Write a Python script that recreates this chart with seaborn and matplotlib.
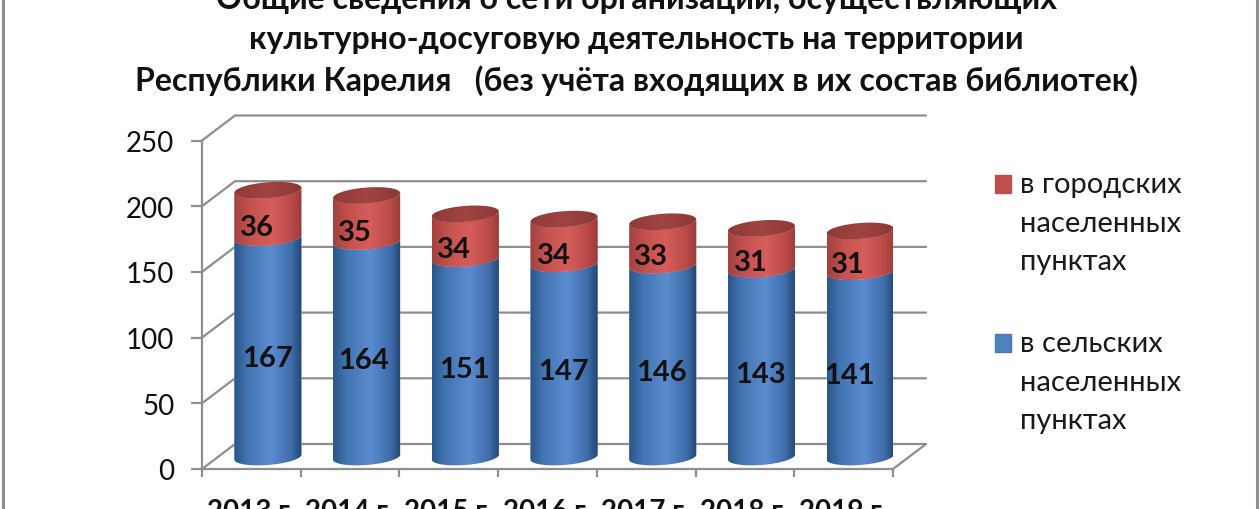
import numpy as np
import pandas as pd
import matplotlib
matplotlib.use("Agg")
import matplotlib.pyplot as plt
import seaborn as sns
from matplotlib.colors import LinearSegmentedColormap
from matplotlib.lines import Line2D
from matplotlib.patches import Patch
from matplotlib.path import Path
from matplotlib.transforms import Affine2D, IdentityTransform

years = ["2013 г.", "2014 г.", "2015 г.", "2016 г.", "2017 г.", "2018 г.", "2019 г."]
rural = [167, 164, 151, 147, 146, 143, 141]
urban = [36, 35, 34, 34, 33, 31, 31]
yticks = [0, 50, 100, 150, 200, 250]
rural_name = "в сельских\nнаселенных\nпунктах"
urban_name = "в городских\nнаселенных\nпунктах"
title = ("Общие сведения о сети организаций, осуществляющих\n"
         "культурно-досуговую деятельность на территории\n"
         "Республики Карелия   (без учёта входящих в их состав библиотек)")

# label nudges in pixels, horizontal, relative to the cylinder centre
rural_dx = [0, -3, -1, -1, -1, -1, -11]
urban_dx = [-11, -12, -11, -10, -12, -11, -12]

GRAY = "#8e8e8e"
W, H = 1260, 510

sns.set_theme(style="white")
plt.rcParams["font.family"] = ["Lato", "DejaVu Sans"]

fig = plt.figure(figsize=(W / 100, H / 100), dpi=100, facecolor="white")
L, R, T, B = 202, 893, 141.5, 470
ax = fig.add_axes([L / W, 1 - B / H, (R - L) / W, (B - T) / H])
ax.set_facecolor("none")

df = pd.DataFrame({"year": years, "rural": rural, "urban": urban})
sns.barplot(data=df, x="year", y="rural", color="#4f81bd", width=0.68, ax=ax, zorder=3)
n_rural = len(ax.patches)
sns.barplot(data=df, x="year", y="urban", bottom=df["rural"], color="#c0504d",
            width=0.68, ax=ax, zorder=3)
ax.set_xlim(-0.5, 6.5)
ax.set_ylim(0, 250)
ax.set_autoscale_on(False)
ax.set_xlabel("")
ax.set_ylabel("")

# axes look
for s in ("top", "right"):
    ax.spines[s].set_visible(False)
for s in ("left", "bottom"):
    ax.spines[s].set_color(GRAY)
    ax.spines[s].set_linewidth(1.6)
ax.set_yticks(yticks)
ax.tick_params(axis="y", left=True, length=8, width=1.6, color=GRAY, pad=12,
               labelsize=20, labelcolor="#111111")
ax.set_xticks(np.arange(-0.5, 7, 1))
ax.set_xticklabels([])
ax.set_xticks(np.arange(7), labels=years, minor=True)
ax.tick_params(axis="x", which="major", bottom=True, length=6, width=1.6, color=GRAY)
ax.tick_params(axis="x", which="minor", bottom=False, length=0, pad=21, labelsize=20)
for t in ax.get_xticklabels(minor=True):
    t.set_fontweight("bold")
    t.set_color("#111111")

# back wall and floor (3-D depth), from the y tick values
back = ax.transData + Affine2D().translate(33, 25)
front = ax.transData
for v in yticks:
    p0 = front.transform((-0.5, v))
    p1 = back.transform((-0.5, v))
    p2 = back.transform((6.5, v))
    ax.add_line(Line2D([p0[0], p1[0], p2[0]], [p0[1], p1[1], p2[1]], color=GRAY, lw=1.6,
                       transform=IdentityTransform(), clip_on=False, zorder=1))
p0 = front.transform((6.5, 0))
p1 = back.transform((6.5, 0))
ax.add_line(Line2D([p0[0], p1[0]], [p0[1], p1[1]], color=GRAY, lw=1.6,
                   transform=IdentityTransform(), clip_on=False, zorder=1))

# cylinders, built on the bars that seaborn placed
off = ax.transData + Affine2D().translate(16.5, 12)
BMINOR, SHEAR = 8.0, 5.0 / 67.0
blue_cm = LinearSegmentedColormap.from_list(
    "b", [(0, "#2a5688"), (0.2, "#4375b2"), (0.55, "#5a8cd0"), (0.85, "#3f6ca8"), (1, "#1f4674")])
red_cm = LinearSegmentedColormap.from_list(
    "r", [(0, "#a2413f"), (0.25, "#c5524f"), (0.55, "#d65e5a"), (0.85, "#b94a48"), (1, "#9a3b39")])
top_cm = LinearSegmentedColormap.from_list("t", ["#8f3a38", "#a04442", "#8c3836"])


def arc(cx, cy, a, t0, t1):
    t = np.linspace(t0, t1, 60)
    x = a * np.cos(t)
    return np.column_stack([cx + x, cy + BMINOR * np.sin(t) + SHEAR * x])


grad = np.linspace(0, 1, 256).reshape(1, -1)


def shade(path, cmap, x0, x1, y0, y1, z):
    im = ax.imshow(grad, extent=(x0, x1, y0, y1), cmap=cmap, aspect="auto", vmin=0, vmax=1,
                   transform=IdentityTransform(), zorder=z, interpolation="bilinear")
    im.set_clip_path(path, IdentityTransform())


for i, bar in enumerate(ax.patches):
    is_rural = i < n_rural
    xa, ya = off.transform((bar.get_x(), bar.get_y()))
    xb, yb = off.transform((bar.get_x() + bar.get_width(), bar.get_y() + bar.get_height()))
    a, cx = (xb - xa) / 2, (xa + xb) / 2
    lower = arc(cx, ya, a, np.pi, 2 * np.pi)          # front arc at the segment's foot
    upper = arc(cx, yb, a, 2 * np.pi, np.pi)          # going back along the head
    path = Path(np.vstack([lower, upper, lower[:1]]))
    z = 3 if is_rural else 4
    bar.set_transform(off)
    bar.set_clip_path(path, IdentityTransform())
    bar.set_zorder(z)
    shade(path, blue_cm if is_rural else red_cm, xa, xb, ya - 12, yb + 12, z + 0.1)
    if not is_rural:
        lid = Path(arc(cx, yb, a, 0, 2 * np.pi))
        shade(lid, top_cm, xa, xb, yb - 12, yb + 12, 4.5)

# data labels
for i in range(len(years)):
    px, py = off.transform((i, rural[i] / 2))
    ax.text(px + rural_dx[i], py - 11, str(rural[i]), transform=IdentityTransform(), ha="center",
            va="center", fontsize=21, fontweight="bold", color="#111111", zorder=6, clip_on=False)
    px, py = off.transform((i, rural[i] + urban[i] / 2))
    ax.text(px + urban_dx[i], py - 13, str(urban[i]), transform=IdentityTransform(), ha="center",
            va="center", fontsize=21, fontweight="bold", color="#111111", zorder=6, clip_on=False)

# legend
handles = [Patch(facecolor="#c0504d", edgecolor="#b5524f", label=urban_name),
           Patch(facecolor="#4f81bd", edgecolor="#4a7ab5", label=rural_name)]
leg = fig.legend(handles=handles, loc="upper left", bbox_to_anchor=(995 / W, 1 - 172 / H),
                 frameon=False, fontsize=21, handlelength=0.55, handleheight=0.55,
                 handletextpad=0.3, labelspacing=1.91, borderpad=0, borderaxespad=0)
for t in leg.get_texts():
    t.set_linespacing(1.6)
    t.set_color("#1a1a1a")
for h in leg.legend_handles:
    h.set_y(h.get_y() + 28)

# title, its first line runs off the top of the picture
fig.text(636 / W, 1 - 91 / H, title, ha="center", va="baseline", fontsize=23,
         fontweight="bold", color="#111111", linespacing=1.45)

# outer frame
for x in (3, 1257):
    fig.add_artist(Line2D([x / W, x / W], [0, 1], color=GRAY, lw=2.2,
                          transform=fig.transFigure))

fig.savefig("out.png", dpi=100)
